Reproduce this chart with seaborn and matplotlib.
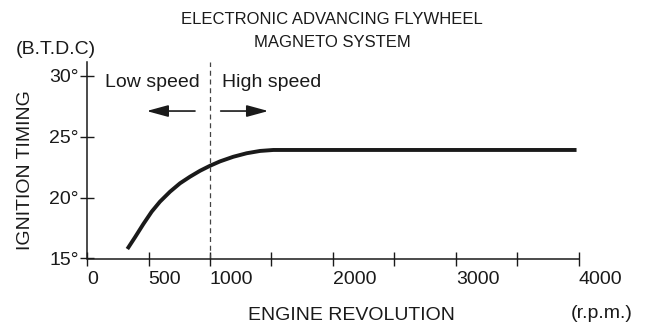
import numpy as np
import pandas as pd
import matplotlib
matplotlib.use("Agg")
import matplotlib.pyplot as plt
import seaborn as sns

# curve (rpm, degrees B.T.D.C)
rpm = [328, 390, 458, 526, 593, 675, 756, 837, 919, 1000,
       1081, 1189, 1298, 1407, 1515, 3980]
timing = [15.78, 16.74, 17.83, 18.85, 19.67, 20.49, 21.18, 21.72, 22.21, 22.62,
          22.98, 23.36, 23.65, 23.84, 23.92, 23.92]

x_ticks = [0, 500, 1000, 1500, 2000, 2500, 3000, 3500, 4000]
x_labels = ['0', '500', '1000', '', '2000', '', '3000', '', '4000']
y_ticks = [15, 20, 25, 30]
y_labels = ['15°', '20°', '25°', '30°']

boundary_rpm = 1000

sns.set_theme(style='white')
plt.rcParams['font.family'] = ['Liberation Sans', 'DejaVu Sans']

df = pd.DataFrame({'rpm': rpm, 'timing': timing})

fig = plt.figure(figsize=(6.49, 3.28), dpi=100)
ax = fig.add_axes([87 / 649, 1 - 258.5 / 328, 492 / 649, 196.5 / 328])

sns.lineplot(data=df, x='rpm', y='timing', ax=ax, color='#1a1a1a',
             linewidth=2.8, solid_capstyle='butt')

ax.axvline(boundary_rpm, color='#444444', linewidth=0.9,
           linestyle=(0, (4, 3)))

ax.set_xlim(0, 4000)
ax.set_ylim(15, 31.15)
ax.set_xticks(x_ticks)
ax.set_xticklabels(x_labels, ha='left')
ax.set_yticks(y_ticks)
ax.set_yticklabels(y_labels)
ax.set_xlabel('')
ax.set_ylabel('')

for side in ['top', 'right']:
    ax.spines[side].set_visible(False)
for side in ['left', 'bottom']:
    ax.spines[side].set_color('#1a1a1a')
    ax.spines[side].set_linewidth(1.1)

ax.tick_params(axis='both', direction='inout', length=10, width=1.0,
               color='#1a1a1a', labelsize=14, labelcolor='#1a1a1a')
ax.tick_params(axis='x', pad=4, bottom=True)
ax.tick_params(axis='y', pad=1, left=True)

# annotations
ax.text(146, 29.5, 'Low speed', fontsize=14, ha='left', va='center', color='#1a1a1a')
ax.text(1098, 29.5, 'High speed', fontsize=14, ha='left', va='center', color='#1a1a1a')
arrow = dict(arrowstyle='-|>,head_length=1.1,head_width=0.3', color='#1a1a1a',
             linewidth=1.2, shrinkA=0, shrinkB=0)
ax.annotate('', xy=(485, 27.12), xytext=(878, 27.12), arrowprops=arrow)
ax.annotate('', xy=(1474, 27.12), xytext=(1087, 27.12), arrowprops=arrow)

fig.text(332 / 649, 1 - 31 / 328, 'ELECTRONIC ADVANCING FLYWHEEL\nMAGNETO SYSTEM',
         ha='center', va='center', fontsize=12, linespacing=1.6, color='#1a1a1a')
fig.text(56 / 649, 1 - 50 / 328, '(B.T.D.C)', ha='center', va='center',
         fontsize=14, color='#1a1a1a')
fig.text(26 / 649, 1 - 170 / 328, 'IGNITION TIMING', ha='center', va='center',
         rotation=90, fontsize=14, color='#1a1a1a')
fig.text(351 / 649, 1 - 316 / 328, 'ENGINE REVOLUTION', ha='center', va='center',
         fontsize=14, color='#1a1a1a')
fig.text(602 / 649, 1 - 314 / 328, '(r.p.m.)', ha='center', va='center',
         fontsize=14, color='#1a1a1a')

fig.savefig('out.png', dpi=100, facecolor='white')
